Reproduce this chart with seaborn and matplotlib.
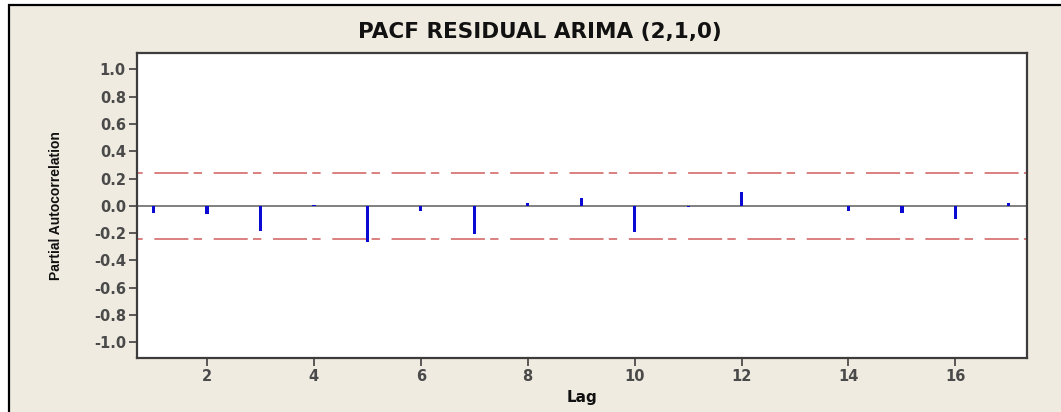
import matplotlib
matplotlib.use("Agg")
import matplotlib.pyplot as plt
import seaborn as sns
import pandas as pd
from matplotlib.patches import Rectangle

# PACF values of the ARIMA(2,1,0) residuals
lags = [1, 2, 3, 4, 5, 6, 7, 8, 9, 10, 11, 12, 13, 14, 15, 16, 17]
pacf = [-0.053, -0.060, -0.188, 0.006, -0.263, -0.035, -0.207, 0.024,
        0.054, -0.190, -0.010, 0.100, 0.002, -0.037, -0.050, -0.098, 0.020]
conf_limit = 0.244
yticks = [1.0, 0.8, 0.6, 0.4, 0.2, 0.0, -0.2, -0.4, -0.6, -0.8, -1.0]
xticks = [2, 4, 6, 8, 10, 12, 14, 16]

BEIGE = "#efebe0"
BLUE = "#0a0ad2"
RED = "#d46a6a"

sns.set_theme(style="white")
plt.rcParams["font.family"] = ["DejaVu Sans"]
plt.rcParams["lines.scale_dashes"] = False

df = pd.DataFrame({"lag": lags, "pacf": pacf})

fig = plt.figure(figsize=(10.61, 4.12), dpi=100, facecolor="white")
W, H = 1061, 412
fig.patches.append(Rectangle((9 / W, -0.1), 1.2, 1.1 - 5 / H,
                             transform=fig.transFigure, facecolor=BEIGE,
                             edgecolor="black", linewidth=1.6, zorder=-10))

ax = fig.add_axes([137 / W, 1 - 358 / H, 890 / W, 305 / H])
ax.set_facecolor("white")

sns.barplot(data=df, x="lag", y="pacf", native_scale=True, width=0.06,
            color=BLUE, saturation=1, linewidth=0, errorbar=None, ax=ax, zorder=3)

ax.axhline(0, color="#808080", lw=1.4, zorder=2)
dash = (30.2, (24.5, 3.8, 6.0, 8.4))
ax.axhline(conf_limit, color=RED, lw=1.2, linestyle=dash, zorder=2)
ax.axhline(-conf_limit, color=RED, lw=1.2, linestyle=dash, zorder=2)

ax.set_xlim(0.69, 17.34)
ax.set_ylim(-1.115, 1.12)
ax.set_yticks(yticks)
ax.set_yticklabels([f"{v:.1f}" for v in yticks])
ax.set_xticks(xticks)
ax.tick_params(axis="both", direction="out", length=6, width=1.2,
               color="#404040", labelcolor="#4a4a4a", labelsize=10.5, pad=2,
               left=True, bottom=True)
for lab in ax.get_yticklabels() + ax.get_xticklabels():
    lab.set_fontweight("bold")

for s in ax.spines.values():
    s.set_color("#3c3c3c")
    s.set_linewidth(1.6)

ax.set_xlabel("Lag", fontsize=11, fontweight="bold", color="#111111", labelpad=4)
ax.set_ylabel("Partial Autocorrelation", fontsize=10, fontweight="bold",
              color="#111111", family=["Liberation Sans", "DejaVu Sans"],
              labelpad=22)
fig.text(540 / W, 1 - 32 / H, "PACF RESIDUAL ARIMA (2,1,0)", ha="center",
         va="center", fontsize=15.5, fontweight="bold", color="#111111")

fig.savefig("out.png", dpi=100, facecolor=fig.get_facecolor())
